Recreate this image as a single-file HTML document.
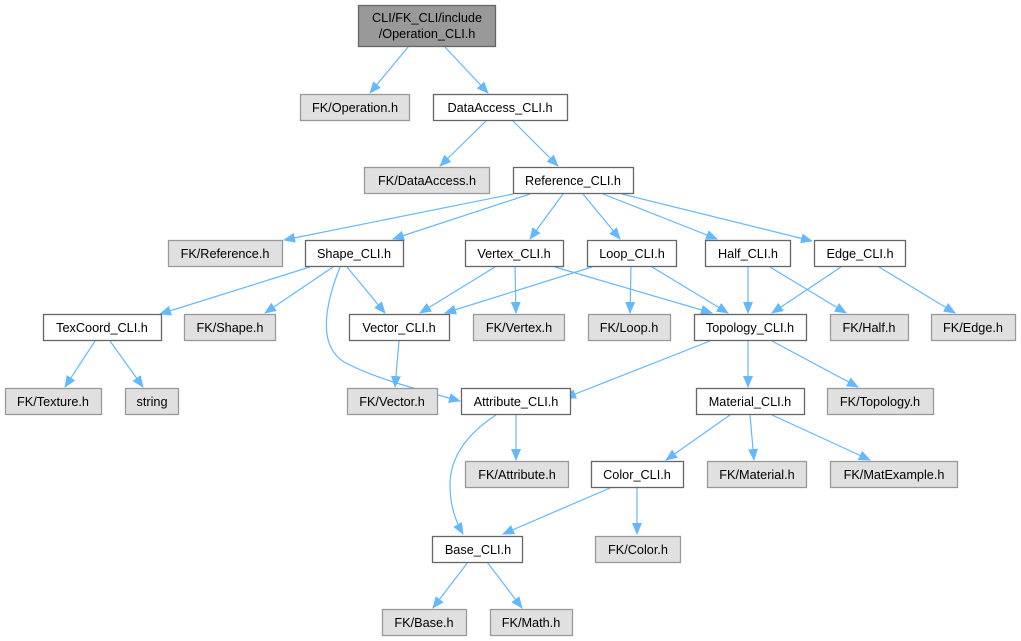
<!DOCTYPE html>
<html><head><meta charset="utf-8"><style>
html,body{margin:0;padding:0;background:#fff;width:1021px;height:641px;overflow:hidden}
text{font-family:"Liberation Sans",Arial,sans-serif;font-size:12.7px;fill:#000}
.w{fill:#fff;stroke:#666;stroke-width:1.3}
.g{fill:#e0e0e0;stroke:#999;stroke-width:1.3}
.r{fill:#999;stroke:#666;stroke-width:1.3}
path{fill:none;stroke:#63b8ff;stroke-width:1.2}
</style></head><body>
<svg width="1021" height="641" viewBox="0 0 1021 641" xmlns="http://www.w3.org/2000/svg">
<defs><marker id="a" markerWidth="12" markerHeight="10" refX="11" refY="5" orient="auto" markerUnits="userSpaceOnUse"><polygon points="0,0 12,5 0,10" fill="#63b8ff"/></marker></defs>
<g marker-end="url(#a)">
<path d="M408,47 L370,93"/>
<path d="M445,47 L488,93"/>
<path d="M487,120 L440,166"/>
<path d="M512,120 L558,166"/>
<path d="M513,194 L284,240"/>
<path d="M530,194 L393,239"/>
<path d="M563,194 L530,239"/>
<path d="M583,194 L620,239"/>
<path d="M603,194 L717,239"/>
<path d="M622,194 L812,241"/>
<path d="M310,267 L160,314"/>
<path d="M333,267 L265,313"/>
<path d="M347,267 L385,313"/>
<path d="M340,267 C325,305 315,350 350,365 C380,380 420,390 460,401"/>
<path d="M495,267 L420,313"/>
<path d="M515,267 L516,313"/>
<path d="M555,267 L712,313"/>
<path d="M592,267 L445,313"/>
<path d="M631,267 L630,313"/>
<path d="M652,267 L728,313"/>
<path d="M748,267 L748,313"/>
<path d="M770,267 L846,313"/>
<path d="M841,267 L772,313"/>
<path d="M879,267 L955,313"/>
<path d="M95,341 L65,387"/>
<path d="M110,341 L143,387"/>
<path d="M399,341 L395,387"/>
<path d="M710,341 L565,398"/>
<path d="M748,341 L748,387"/>
<path d="M772,341 L858,387"/>
<path d="M516,415 L516,460"/>
<path d="M496,415 C470,432 450,455 450,485 C450,505 455,520 463,534"/>
<path d="M730,415 L666,460"/>
<path d="M750,415 L754,460"/>
<path d="M772,415 L870,460"/>
<path d="M610,488 L503,534"/>
<path d="M637,488 L637,534"/>
<path d="M468,562 L433,608"/>
<path d="M487,562 L522,608"/>
</g>
<rect class="r" x="358.5" y="5.5" width="137" height="41"/>
<text x="427" y="22" text-anchor="middle">CLI/FK_CLI/include</text>
<text x="427" y="38" text-anchor="middle">/Operation_CLI.h</text>

<rect class="g" x="300.5" y="94.5" width="109" height="26"/><text x="355" y="112" text-anchor="middle">FK/Operation.h</text>
<rect class="w" x="433.5" y="94.5" width="134" height="26"/><text x="500" y="112" text-anchor="middle">DataAccess_CLI.h</text>
<rect class="g" x="364.5" y="167.5" width="125" height="26"/><text x="427" y="185" text-anchor="middle">FK/DataAccess.h</text>
<rect class="w" x="513.5" y="167.5" width="120" height="26"/><text x="573" y="185" text-anchor="middle">Reference_CLI.h</text>

<rect class="g" x="168.5" y="240.5" width="114" height="26"/><text x="225" y="258" text-anchor="middle">FK/Reference.h</text>
<rect class="w" x="305.5" y="240.5" width="98" height="26"/><text x="354" y="258" text-anchor="middle">Shape_CLI.h</text>
<rect class="w" x="465.5" y="240.5" width="98" height="26"/><text x="514" y="258" text-anchor="middle">Vertex_CLI.h</text>
<rect class="w" x="587.5" y="240.5" width="89" height="26"/><text x="632" y="258" text-anchor="middle">Loop_CLI.h</text>
<rect class="w" x="705.5" y="240.5" width="85" height="26"/><text x="748" y="258" text-anchor="middle">Half_CLI.h</text>
<rect class="w" x="814.5" y="240.5" width="91" height="26"/><text x="860" y="258" text-anchor="middle">Edge_CLI.h</text>

<rect class="w" x="43.5" y="314.5" width="118" height="26"/><text x="102" y="332" text-anchor="middle">TexCoord_CLI.h</text>
<rect class="g" x="184.5" y="314.5" width="91" height="26"/><text x="230" y="332" text-anchor="middle">FK/Shape.h</text>
<rect class="w" x="349.5" y="314.5" width="100" height="26"/><text x="399" y="332" text-anchor="middle">Vector_CLI.h</text>
<rect class="g" x="473.5" y="314.5" width="91" height="26"/><text x="519" y="332" text-anchor="middle">FK/Vertex.h</text>
<rect class="g" x="588.5" y="314.5" width="82" height="26"/><text x="629" y="332" text-anchor="middle">FK/Loop.h</text>
<rect class="w" x="694.5" y="314.5" width="112" height="26"/><text x="750" y="332" text-anchor="middle">Topology_CLI.h</text>
<rect class="g" x="830.5" y="314.5" width="78" height="26"/><text x="869" y="332" text-anchor="middle">FK/Half.h</text>
<rect class="g" x="931.5" y="314.5" width="84" height="26"/><text x="973" y="332" text-anchor="middle">FK/Edge.h</text>

<rect class="g" x="5.5" y="388.5" width="96" height="26"/><text x="53" y="406" text-anchor="middle">FK/Texture.h</text>
<rect class="g" x="125.5" y="388.5" width="53" height="26"/><text x="152" y="406" text-anchor="middle">string</text>
<rect class="g" x="347.5" y="388.5" width="90" height="26"/><text x="392" y="406" text-anchor="middle">FK/Vector.h</text>
<rect class="w" x="461.5" y="388.5" width="109" height="26"/><text x="516" y="406" text-anchor="middle">Attribute_CLI.h</text>
<rect class="w" x="696.5" y="388.5" width="108" height="26"/><text x="750" y="406" text-anchor="middle">Material_CLI.h</text>
<rect class="g" x="827.5" y="388.5" width="106" height="26"/><text x="880" y="406" text-anchor="middle">FK/Topology.h</text>

<rect class="g" x="465.5" y="461.5" width="103" height="26"/><text x="517" y="479" text-anchor="middle">FK/Attribute.h</text>
<rect class="w" x="591.5" y="461.5" width="92" height="26"/><text x="637" y="479" text-anchor="middle">Color_CLI.h</text>
<rect class="g" x="707.5" y="461.5" width="99" height="26"/><text x="757" y="479" text-anchor="middle">FK/Material.h</text>
<rect class="g" x="830.5" y="461.5" width="127" height="26"/><text x="894" y="479" text-anchor="middle">FK/MatExample.h</text>

<rect class="w" x="432.5" y="536.5" width="90" height="26"/><text x="478" y="554" text-anchor="middle">Base_CLI.h</text>
<rect class="g" x="595.5" y="536.5" width="85" height="26"/><text x="638" y="554" text-anchor="middle">FK/Color.h</text>

<rect class="g" x="382.5" y="609.5" width="84" height="26"/><text x="424" y="627" text-anchor="middle">FK/Base.h</text>
<rect class="g" x="490.5" y="609.5" width="82" height="26"/><text x="531" y="627" text-anchor="middle">FK/Math.h</text>
</svg>
</body></html>
